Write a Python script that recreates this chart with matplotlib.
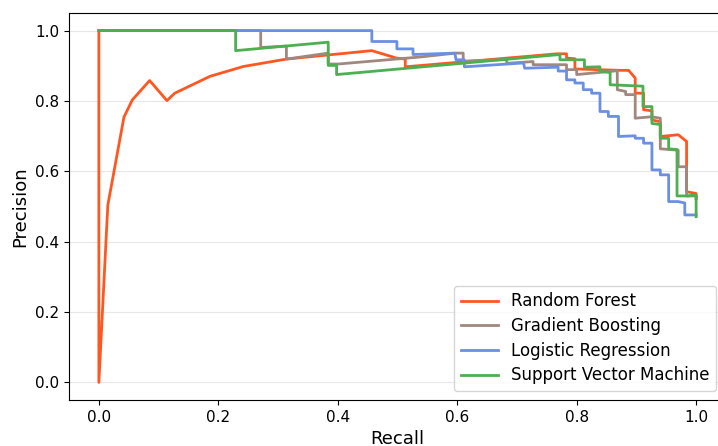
import matplotlib
matplotlib.use("Agg")
import matplotlib.pyplot as plt

# Precision-recall vertices
rf_recall = [0.0, 0.0, 0.015, 0.042, 0.056, 0.085, 0.114, 0.127, 0.186, 0.242,
             0.314, 0.457, 0.498, 0.513, 0.513, 0.767, 0.783, 0.783, 0.797, 0.797,
             0.873, 0.887, 0.898, 0.898, 0.912, 0.912, 0.926, 0.926, 0.940, 0.940,
             0.970, 0.984, 0.984, 1.0, 1.0]
rf_precision = [1.0, 0.0, 0.504, 0.754, 0.803, 0.858, 0.801, 0.822, 0.870, 0.898,
                0.919, 0.943, 0.922, 0.919, 0.897, 0.934, 0.934, 0.922, 0.920, 0.891,
                0.887, 0.887, 0.865, 0.822, 0.822, 0.775, 0.772, 0.746, 0.741, 0.699,
                0.704, 0.685, 0.542, 0.537, 0.523]

gb_recall = [0.0, 0.271, 0.271, 0.314, 0.314, 0.384, 0.384, 0.401, 0.538, 0.598,
             0.610, 0.610, 0.683, 0.683, 0.727, 0.727, 0.769, 0.783, 0.783, 0.800,
             0.800, 0.856, 0.868, 0.868, 0.882, 0.882, 0.898, 0.898, 0.925, 0.940,
             0.940, 0.970, 0.970, 0.984, 0.984, 1.0, 1.0]
gb_precision = [1.0, 1.0, 0.952, 0.956, 0.919, 0.936, 0.905, 0.905, 0.925, 0.936,
                0.936, 0.913, 0.918, 0.907, 0.912, 0.903, 0.903, 0.903, 0.889, 0.889,
                0.875, 0.884, 0.886, 0.832, 0.827, 0.818, 0.818, 0.751, 0.755, 0.751,
                0.664, 0.660, 0.613, 0.613, 0.530, 0.530, 0.523]

lr_recall = [0.0, 0.457, 0.457, 0.499, 0.499, 0.526, 0.526, 0.596, 0.598, 0.612,
             0.612, 0.711, 0.713, 0.769, 0.769, 0.783, 0.783, 0.797, 0.797, 0.811,
             0.811, 0.825, 0.825, 0.839, 0.839, 0.853, 0.853, 0.870, 0.870, 0.898,
             0.898, 0.912, 0.912, 0.926, 0.926, 0.940, 0.940, 0.954, 0.954, 0.970,
             0.981, 0.981, 1.0]
lr_precision = [1.0, 1.0, 0.969, 0.969, 0.948, 0.948, 0.932, 0.936, 0.917, 0.917,
                0.897, 0.908, 0.893, 0.896, 0.885, 0.885, 0.860, 0.860, 0.851, 0.851,
                0.832, 0.832, 0.822, 0.822, 0.770, 0.770, 0.756, 0.756, 0.699, 0.701,
                0.694, 0.694, 0.680, 0.680, 0.604, 0.604, 0.590, 0.590, 0.514, 0.514,
                0.510, 0.476, 0.476]

svm_recall = [0.0, 0.229, 0.229, 0.384, 0.384, 0.398, 0.398, 0.772, 0.772, 0.813,
              0.813, 0.839, 0.839, 0.856, 0.856, 0.911, 0.911, 0.926, 0.926, 0.940,
              0.940, 0.954, 0.954, 0.968, 0.968, 0.986, 1.0, 1.0]
svm_precision = [1.0, 1.0, 0.943, 0.967, 0.901, 0.901, 0.875, 0.932, 0.917, 0.917,
                 0.896, 0.897, 0.884, 0.881, 0.846, 0.842, 0.784, 0.784, 0.736, 0.733,
                 0.694, 0.694, 0.664, 0.662, 0.530, 0.530, 0.533, 0.471]

SERIES = [
    ("Random Forest", rf_recall, rf_precision, "#FF5722"),
    ("Gradient Boosting", gb_recall, gb_precision, "#A1887F"),
    ("Logistic Regression", lr_recall, lr_precision, "#6A8FE3"),
    ("Support Vector Machine", svm_recall, svm_precision, "#4CAF50"),
]

fig = plt.figure(figsize=(7.18, 4.46), dpi=100)
# axes run past the right edge, as in the cropped reference
ax = fig.add_axes([69 / 718, 46 / 446, 657 / 718, 387 / 446])

for label, rec, prec, color in SERIES:
    ax.plot(rec, prec, color=color, linewidth=2.0, label=label)

ax.set_xlim(-0.05, 1.05)
ax.set_ylim(-0.05, 1.05)
ax.set_xticks([0.0, 0.2, 0.4, 0.6, 0.8, 1.0])
ax.set_yticks([0.0, 0.2, 0.4, 0.6, 0.8, 1.0])
ax.tick_params(labelsize=11)
ax.set_xlabel("Recall", fontsize=13)
ax.set_ylabel("Precision", fontsize=13)
ax.grid(True, axis="y", alpha=0.3)

ax.legend(loc="lower right", fontsize=12, labelspacing=0.4,
          handlelength=2.2, borderaxespad=0,
          bbox_to_anchor=(716 / 718, 55 / 446), bbox_transform=fig.transFigure)

fig.savefig("out.png", dpi=100)
